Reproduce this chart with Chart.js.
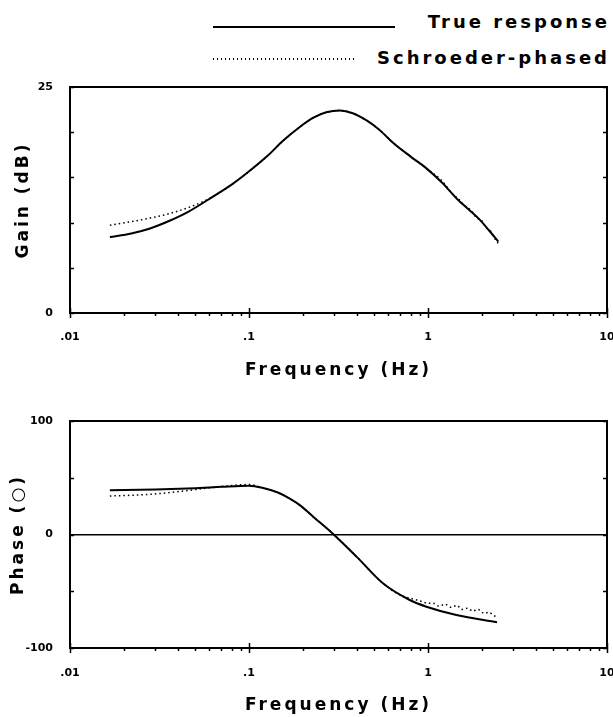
<!DOCTYPE html>
<html>
<head>
<meta charset="utf-8">
<script src="https://cdn.jsdelivr.net/npm/chart.js@4/dist/chart.umd.min.js"></script>
<style>
  body { margin: 0; background: #fff; overflow: hidden; }
  .box { position: absolute; left: 0; }
  .leg { position: absolute; right: 3px; font: bold 18px "DejaVu Sans", sans-serif; letter-spacing: 3px; line-height: 20px; color: #000; }
  .line { position: absolute; height: 0; border-top: 2px solid #000; }
  .dots { position: absolute; height: 2px; background: repeating-linear-gradient(90deg, #000 0 1.5px, transparent 1.5px 4px); }
</style>
</head>
<body>
<div class="line" style="left:213px; top:26px; width:182px"></div>
<div class="leg" style="top:12px">True response</div>
<div class="dots" style="left:213px; top:58px; width:144px"></div>
<div class="leg" style="top:48px">Schroeder-phased</div>

<div class="box" style="top:80px"><canvas id="gainChart" width="613" height="310"></canvas></div>
<div class="box" style="top:400px"><canvas id="phaseChart" width="613" height="317"></canvas></div>

<script>
// DATOS
const xMajor = [0.01, 0.1, 1, 10]
const xMajorLabels = ['.01', '.1', '1', '10']

const gainTicks = [0, 25]
const phaseTicks = [-100, 0, 100]

// ganancia (dB)
const gainTrueFreq = [0.0167, 0.022, 0.028, 0.036, 0.0449, 0.0632, 0.08, 0.097, 0.1256, 0.156, 0.193, 0.229, 0.27, 0.322, 0.38, 0.454, 0.54, 0.64, 0.8, 0.98, 1.2, 1.44, 1.7, 1.95, 2.2, 2.47]
const gainTrue = [8.4, 8.8, 9.35, 10.2, 11.1, 12.9, 14.2, 15.45, 17.3, 19.1, 20.6, 21.6, 22.2, 22.4, 22.1, 21.3, 20.2, 18.8, 17.3, 16.0, 14.4, 12.7, 11.4, 10.3, 9.1, 7.9]

const gainSchFreq = [0.0167, 0.022, 0.028, 0.036, 0.0449, 0.055, 0.0632, 0.08, 0.097, 0.1256, 0.156, 0.193, 0.229, 0.27, 0.322, 0.38, 0.454, 0.54, 0.64, 0.8, 0.98, 1.2, 1.35, 1.5, 1.6, 1.75, 1.85, 2.0, 2.1, 2.25, 2.35, 2.47]
const gainSch = [9.7, 10.1, 10.5, 11.0, 11.6, 12.3, 12.9, 14.2, 15.45, 17.3, 19.1, 20.6, 21.6, 22.2, 22.4, 22.1, 21.3, 20.2, 18.8, 17.3, 16.0, 14.6, 13.3, 12.5, 11.9, 11.3, 10.6, 10.2, 9.5, 9.0, 8.3, 7.7]

// fase (grados)
const phaseTrueFreq = [0.0167, 0.03, 0.05, 0.07, 0.1, 0.12, 0.145, 0.169, 0.193, 0.229, 0.295, 0.40, 0.56, 0.79, 0.98, 1.44, 2.43]
const phaseTrue = [38.9, 39.6, 40.8, 42.0, 43.0, 41.0, 37.0, 31.6, 25.7, 15.5, 0.5, -19.7, -43, -57.7, -63.6, -70.9, -77.3]

const phaseSchFreq = [0.0167, 0.028, 0.043, 0.066, 0.1, 0.12, 0.145, 0.169, 0.193, 0.229, 0.295, 0.40, 0.56, 0.7, 0.79, 0.9, 1.0, 1.07, 1.15, 1.25, 1.34, 1.45, 1.55, 1.66, 1.78, 1.9, 2.06, 2.2, 2.3, 2.43]
const phaseSch = [33.9, 35.4, 38.3, 41.8, 44.0, 41.0, 37.0, 31.6, 25.7, 15.5, 0.5, -19.7, -43, -53.5, -56, -58.5, -60.5, -60.6, -63, -61.5, -64.1, -62.5, -66, -65, -67.5, -66, -69.4, -68.5, -71, -72.4]

const titleFont = { family: '"DejaVu Sans", sans-serif', size: 17, weight: 'bold' }
const tickFont = { family: '"DejaVu Sans", sans-serif', size: 11, weight: 'bold' }

const toPoints = (xs, ys) => xs.map((x, i) => ({ x: x, y: ys[i] }))

const isDecade = v => Math.abs(Math.log10(v) - Math.round(Math.log10(v))) < 1e-6

// marco + marcas hacia dentro
const frameTicks = {
  id: 'frameTicks',
  afterDraw(chart) {
    const { ctx, chartArea: a, scales } = chart
    ctx.save()
    ctx.strokeStyle = '#000'
    ctx.lineWidth = 2
    ctx.strokeRect(a.left, a.top, a.right - a.left, a.bottom - a.top)
    ctx.lineWidth = 1.5
    ctx.beginPath()
    scales.x.ticks.forEach(t => {
      const px = Math.round(scales.x.getPixelForValue(t.value)) + 0.5
      if (isDecade(t.value)) {
        ctx.moveTo(px, a.bottom - 5); ctx.lineTo(px, a.bottom + 5)
      } else {
        ctx.moveTo(px, a.bottom); ctx.lineTo(px, a.bottom + 3)
      }
    })
    scales.y.ticks.forEach(t => {
      const py = Math.round(scales.y.getPixelForValue(t.value)) + 0.5
      ctx.moveTo(a.left, py); ctx.lineTo(a.left + 4, py)
      ctx.moveTo(a.right, py); ctx.lineTo(a.right - 4, py)
    })
    ctx.stroke()
    ctx.restore()
  }
}

// titulos con espaciado
const spacedTitles = {
  id: 'spacedTitles',
  afterLayout(chart) {
    Object.values(chart.scales).forEach(s => {
      if (s._spaced) return
      const orig = s.drawTitle
      s.drawTitle = function () {
        this.ctx.save()
        this.ctx.letterSpacing = '3px'
        orig.call(this)
        this.ctx.restore()
      }
      s._spaced = true
    })
  }
}

function xScale(axisHeight, tickPad, titlePad) {
  return {
    type: 'logarithmic',
    min: 0.01,
    max: 10,
    afterBuildTicks: scale => {
      const ticks = []
      for (let i = 0; i < xMajor.length - 1; i++) {
        for (let k = 1; k < 10; k++) ticks.push({ value: xMajor[i] * k })
      }
      ticks.push({ value: xMajor[xMajor.length - 1] })
      scale.ticks = ticks
    },
    afterFit: scale => {
      scale.height = axisHeight
      scale.paddingLeft = 0
      scale.paddingRight = 0
    },
    grid: { display: false, drawTicks: false },
    border: { display: false },
    ticks: {
      autoSkip: false,
      maxRotation: 0,
      padding: tickPad,
      color: '#000',
      font: tickFont,
      callback: v => {
        const i = xMajor.findIndex(m => Math.abs(m - v) < m * 1e-6)
        return i >= 0 ? xMajorLabels[i] : ''
      }
    },
    title: { display: true, text: 'Frequency (Hz)', color: '#000', font: titleFont, padding: { top: 0, bottom: titlePad } }
  }
}

function yScale(min, max, step, labels, title, titlePad, zeroLine) {
  return {
    min: min,
    max: max,
    afterFit: scale => {
      scale.width = 70
      scale.paddingTop = 0
      scale.paddingBottom = 0
    },
    grid: {
      display: zeroLine,
      drawTicks: false,
      lineWidth: 1.5,
      color: c => (c.tick && c.tick.value === 0 ? '#000' : 'rgba(0,0,0,0)')
    },
    border: { display: false },
    ticks: {
      stepSize: step,
      padding: 17,
      color: '#000',
      font: tickFont,
      callback: v => (labels.includes(v) ? String(v) : '')
    },
    title: { display: true, text: title, color: '#000', font: titleFont, padding: { top: titlePad, bottom: 0 } }
  }
}

function makeChart(id, trueData, schData, yOpts, xOpts, padTop) {
  const ctx = document.getElementById(id).getContext('2d')
  return new Chart(ctx, {
    type: 'line',
    data: {
      datasets: [
        {
          label: 'True response',
          data: trueData,
          borderColor: '#000',
          borderWidth: 2,
          pointRadius: 0,
          cubicInterpolationMode: 'monotone'
        },
        {
          label: 'Schroeder-phased',
          data: schData,
          borderColor: '#000',
          borderWidth: 1.5,
          borderDash: [1.5, 3],
          pointRadius: 0,
          cubicInterpolationMode: 'monotone'
        }
      ]
    },
    options: {
      responsive: false,
      animation: false,
      devicePixelRatio: 1,
      layout: { padding: { top: padTop, right: 6, left: 0, bottom: 0 } },
      plugins: { legend: { display: false }, tooltip: { enabled: false } },
      scales: { x: xOpts, y: yOpts }
    },
    plugins: [frameTicks, spacedTitles]
  })
}

makeChart('gainChart',
  toPoints(gainTrueFreq, gainTrue),
  toPoints(gainSchFreq, gainSch),
  yScale(0, 25, 5, gainTicks, 'Gain (dB)', 13, false),
  xScale(77, 18, 9),
  7)

makeChart('phaseChart',
  toPoints(phaseTrueFreq, phaseTrue),
  toPoints(phaseSchFreq, phaseSch),
  yScale(-100, 100, 50, phaseTicks, 'Phase (○)', 8, true),
  xScale(69, 19, 1),
  21)
</script>
</body>
</html>
